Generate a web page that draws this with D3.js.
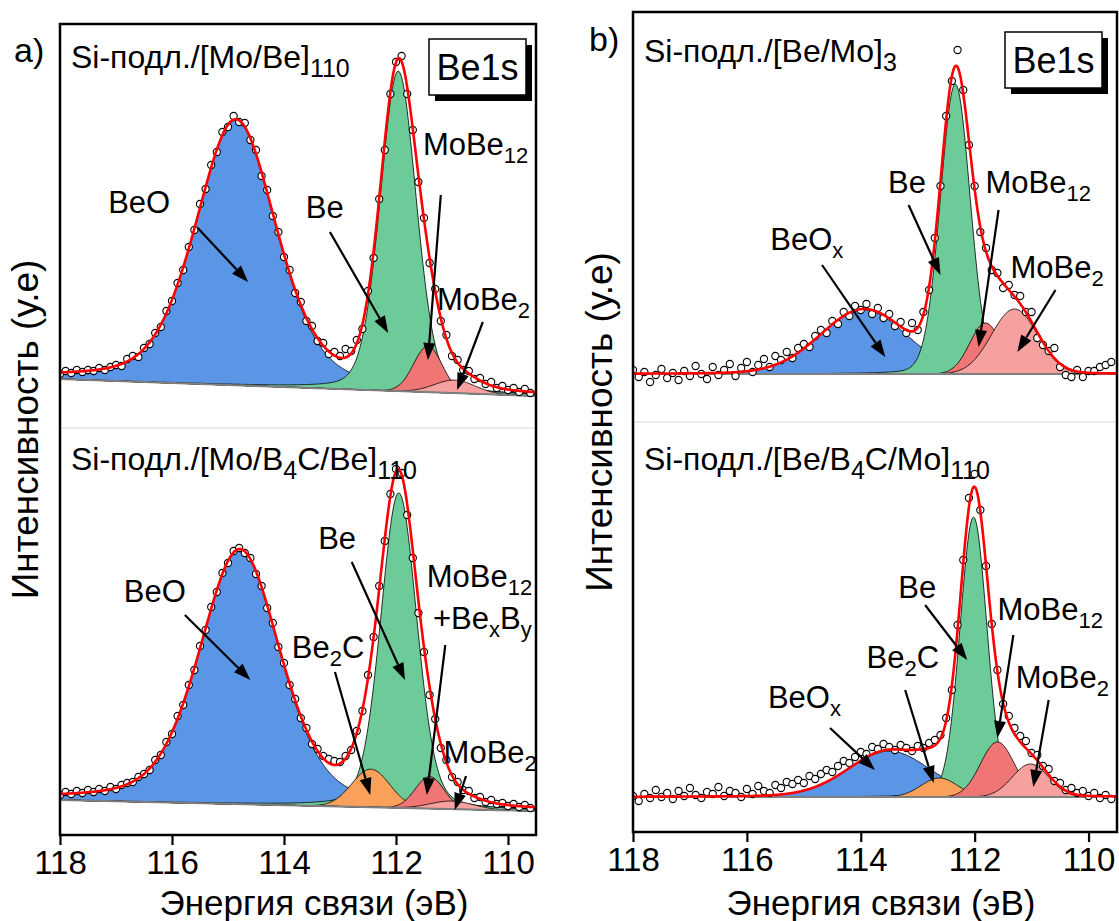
<!DOCTYPE html>
<html>
<head>
<meta charset="utf-8">
<script src="https://cdn.jsdelivr.net/npm/d3@7"></script>
<style>
  body { margin: 0; background: #fff; }
  svg { display: block; font-family: "Liberation Sans", Arial, sans-serif; }
</style>
</head>
<body>
<svg id="chart" width="1119" height="921"></svg>
<script>
// ---------------- data ----------------
const tickValues = [118, 116, 114, 112, 110];
const energyDomain = [118, 109.5];
const scanStart = 118.0, scanStep = 0.1;   // measured points: 118.0, 117.9, ... 109.6

// a) Si-подл./[Mo/Be]110
const aTopCounts = [54,57,55,58,56,58,57,60,58,61,63,62,69,72,71,80,84,95,101,117,
  127,145,158,181,198,224,239,263,276,296,301,312,306,305,288,278,252,238,212,196,
  171,158,135,126,107,102,87,85,74,76,72,79,77,88,99,137,170,229,278,334,
  366,372,334,298,246,210,165,139,107,93,72,68,58,57,49,50,44,46,40,42,
  38,40,36,39,35];
const aTopBackground = [49, 32];
const aTopPeaks = [
  { name: "BeO",    center: 114.86, height: 265, fwhm: 1.7,  eta: 0.35 },
  { name: "Be",     center: 111.96, height: 320, fwhm: 0.76, eta: 0.2 },
  { name: "MoBe12", center: 111.43, height: 46,  fwhm: 0.6,  eta: 0 },
  { name: "MoBe2",  center: 110.95, height: 13,  fwhm: 0.85, eta: 0 }
];

// a) Si-подл./[Mo/B4C/Be]110
const aBotCounts = [40,43,41,44,42,45,43,46,44,48,46,50,52,53,58,61,65,75,80,93,
  101,119,130,150,165,189,205,228,243,262,272,284,287,282,277,261,249,227,212,188,
  172,150,136,117,107,91,86,79,76,74,73,79,85,104,124,160,198,249,294,341,
  366,362,320,277,222,183,140,116,87,75,58,53,45,44,37,38,33,35,31,32,
  29,31,28,30,27];
const aBotBackground = [35, 24];
const aBotPeaks = [
  { name: "BeO",    center: 114.79, height: 254, fwhm: 1.7,  eta: 0.35 },
  { name: "Be",     center: 111.95, height: 315, fwhm: 0.76, eta: 0.2 },
  { name: "Be2C",   center: 112.45, height: 38,  fwhm: 0.8,  eta: 0 },
  { name: "MoBe12", center: 111.4,  height: 32,  fwhm: 0.6,  eta: 0 },
  { name: "MoBe2",  center: 111.0,  height: 8,   fwhm: 0.9,  eta: 0 }
];

// b) Si-подл./[Be/Mo]3
const bTopCounts = [52,45,50,40,47,53,44,49,42,51,46,56,48,43,55,47,52,58,46,54,
  60,50,57,63,55,66,62,70,64,74,78,75,86,92,89,101,98,110,106,116,
  112,118,108,114,104,108,96,100,89,99,92,110,132,184,236,306,341,372,332,277,
  236,190,174,152,149,134,137,127,126,110,110,84,77,71,74,55,47,45,52,45,
  51,51,55,57,60];
const bTopBackground = [48, 48];
const bTopPeaks = [
  { name: "BeOx",   center: 113.95, height: 64,  fwhm: 1.8,  eta: 0.1 },
  { name: "Be",     center: 112.34, height: 290, fwhm: 0.62, eta: 0.1 },
  { name: "MoBe12", center: 111.81, height: 51,  fwhm: 0.65, eta: 0 },
  { name: "MoBe2",  center: 111.3,  height: 65,  fwhm: 0.95, eta: 0 }
];

// b) Si-подл./[Be/B4C/Mo]110
const bBotCounts = [36,31,38,34,42,35,39,33,41,36,44,37,34,40,38,45,36,41,39,35,
  43,38,46,41,39,47,44,50,48,52,49,56,53,58,62,60,66,71,69,75,
  80,78,85,83,88,85,82,87,84,81,86,84,89,92,97,114,142,207,272,334,
  358,322,266,208,162,128,116,104,96,91,79,77,66,63,51,49,42,44,39,41,
  36,39,34,37,33];
const bBotBackground = [35, 35];
const bBotPeaks = [
  { name: "BeOx",   center: 113.5,  height: 46,  fwhm: 1.7,  eta: 0.15 },
  { name: "Be",     center: 112.02, height: 280, fwhm: 0.56, eta: 0.1 },
  { name: "Be2C",   center: 112.62, height: 19,  fwhm: 0.75, eta: 0 },
  { name: "MoBe12", center: 111.6,  height: 55,  fwhm: 0.7,  eta: 0 },
  { name: "MoBe2",  center: 111.02, height: 33,  fwhm: 0.75, eta: 0 }
];

// ---------------- styles / layout ----------------
const peakColor = {
  BeO: "#5b95e5", BeOx: "#5b95e5", Be: "#6ccb98",
  Be2C: "#f9a05a", MoBe12: "#f07575", MoBe2: "#f6a0a0"
};
const FONT = "'Liberation Sans', Arial, sans-serif";

const columns = {
  a: { x0: 60,  x1: 536,  y0: 24, y1: 835, split: 428, letter: "a)", lx: 14,  ly: 62,
       badgeRight: 10, badgeTop: 15, titleX: 314, yTitleX: 38 },
  b: { x0: 633, x1: 1117, y0: 12, y1: 832, split: 422, letter: "b)", lx: 589, ly: 51,
       badgeRight: 15, badgeTop: 20, titleX: 881, yTitleX: 612 }
};

const panels = [
  { col: "a", bottom: 428, counts: aTopCounts, bg: aTopBackground, peaks: aTopPeaks,
    title: "Si-подл./[Mo/Be]_{110}", titleY: 360,
    notes: [
      { text: "BeO", x: 117.14, y: 215, from: [115.54, 200], to: [114.64, 146] },
      { text: "Be", x: 113.61, y: 210, from: [113.18, 196], to: [112.14, 95] },
      { text: "MoBe_{12}", x: 111.52, y: 273, from: [111.2, 233], to: [111.43, 68] },
      { text: "MoBe_{2}", x: 111.27, y: 118, from: [110.45, 106], to: [110.91, 38] }
    ] },
  { col: "a", bottom: 835, counts: aBotCounts, bg: aBotBackground, peaks: aBotPeaks,
    title: "Si-подл./[Mo/B_{4}C/Be]_{110}", titleY: 365,
    notes: [
      { text: "BeO", x: 116.86, y: 233, from: [115.77, 220], to: [114.6, 155] },
      { text: "Be_{2}C", x: 113.86, y: 177, from: [113.09, 163], to: [112.46, 40] },
      { text: "Be", x: 113.39, y: 286, from: [112.79, 273], to: [111.84, 155] },
      { text: "MoBe_{12}", x: 111.45, y: 248 },
      { text: "+Be_{x}B_{y}", x: 111.34, y: 206, from: [111.12, 190], to: [111.45, 40] },
      { text: "MoBe_{2}", x: 111.15, y: 72, from: [110.75, 59], to: [110.95, 25] }
    ] },
  { col: "b", bottom: 422, counts: bTopCounts, bg: bTopBackground, peaks: bTopPeaks,
    title: "Si-подл./[Be/Mo]_{3}", titleY: 360,
    notes: [
      { text: "BeO_{x}", x: 115.59, y: 172, from: [114.68, 157], to: [113.57, 65] },
      { text: "Be", x: 113.52, y: 229, from: [113.16, 217], to: [112.6, 147] },
      { text: "MoBe_{12}", x: 111.81, y: 229, from: [111.58, 212], to: [111.93, 75] },
      { text: "MoBe_{2}", x: 111.37, y: 144, from: [110.58, 132], to: [111.25, 70] }
    ] },
  { col: "b", bottom: 832, counts: bBotCounts, bg: bBotBackground, peaks: bBotPeaks,
    title: "Si-подл./[Be/B_{4}C/Mo]_{110}", titleY: 362,
    notes: [
      { text: "Be", x: 113.34, y: 234, from: [112.87, 227], to: [112.13, 172] },
      { text: "Be_{2}C", x: 113.9, y: 164, from: [113.22, 142], to: [112.72, 49] },
      { text: "BeO_{x}", x: 115.63, y: 124, from: [114.54, 104], to: [113.75, 62] },
      { text: "MoBe_{12}", x: 111.6, y: 212, from: [111.32, 197], to: [111.6, 94] },
      { text: "MoBe_{2}", x: 111.28, y: 144, from: [110.7, 132], to: [110.97, 45] }
    ] }
];

// ---------------- helpers ----------------
function pseudoVoigt(e, p) {
  const d = e - p.center, w2 = p.fwhm * p.fwhm;
  const g = Math.exp(-4 * Math.LN2 * d * d / w2);
  const l = 1 / (1 + 4 * d * d / w2);
  return p.height * (p.eta * l + (1 - p.eta) * g);
}

// text with _{sub} parts
function richText(sel, str, size, subScale, drop) {
  const parts = str.split(/_\{([^}]*)\}/);
  let shifted = false;
  parts.forEach((s, i) => {
    if (!s) return;
    const sub = i % 2 === 1;
    const t = sel.append("tspan").text(s);
    if (sub) {
      t.attr("font-size", Math.round(size * subScale)).attr("dy", shifted ? 0 : drop);
      shifted = true;
    } else {
      t.attr("font-size", size).attr("dy", shifted ? -drop : 0);
      shifted = false;
    }
  });
}

function arrow(g, x1, y1, x2, y2) {
  const ang = Math.atan2(y2 - y1, x2 - x1);
  const len = 17, half = 6;
  const bx = x2 - len * Math.cos(ang), by = y2 - len * Math.sin(ang);
  g.append("line")
    .attr("x1", x1).attr("y1", y1).attr("x2", bx).attr("y2", by)
    .attr("stroke", "#000").attr("stroke-width", 2.2);
  const px = -Math.sin(ang) * half, py = Math.cos(ang) * half;
  g.append("path")
    .attr("d", `M${x2},${y2}L${bx + px},${by + py}L${bx - px},${by - py}Z`)
    .attr("fill", "#000");
}

// ---------------- drawing ----------------
const svg = d3.select("#chart");
const defs = svg.append("defs");
const xScales = {};

Object.entries(columns).forEach(([key, c]) => {
  xScales[key] = d3.scaleLinear().domain(energyDomain).range([c.x0, c.x1]);
  defs.append("clipPath").attr("id", "clip-" + key)
    .append("rect")
    .attr("x", c.x0).attr("y", c.y0).attr("width", c.x1 - c.x0).attr("height", c.y1 - c.y0);
});

const fine = d3.range(energyDomain[0], energyDomain[1] - 0.001, -0.02);

panels.forEach(p => {
  const c = columns[p.col];
  const x = xScales[p.col];
  const y = d3.scaleLinear().domain([0, 400]).range([p.bottom, p.bottom - 400]);
  const bgAt = e => p.bg[0] + (p.bg[1] - p.bg[0]) * (energyDomain[0] - e) / (energyDomain[0] - energyDomain[1]);

  const g = svg.append("g").attr("clip-path", `url(#clip-${p.col})`);

  // components
  p.peaks.forEach(pk => {
    const area = d3.area()
      .x(e => x(e))
      .y0(e => y(bgAt(e)))
      .y1(e => y(bgAt(e) + pseudoVoigt(e, pk)));
    g.append("path").datum(fine)
      .attr("d", area)
      .attr("fill", peakColor[pk.name])
      .attr("stroke", "#000").attr("stroke-width", 0.8);
  });

  // background
  g.append("line")
    .attr("x1", x(energyDomain[0])).attr("y1", y(p.bg[0]))
    .attr("x2", x(energyDomain[1])).attr("y2", y(p.bg[1]))
    .attr("stroke", "#808080").attr("stroke-width", 2);

  // measured points
  g.selectAll("circle.pt").data(p.counts).enter().append("circle")
    .attr("class", "pt")
    .attr("cx", (v, i) => x(scanStart - i * scanStep))
    .attr("cy", v => y(v))
    .attr("r", 3.6)
    .attr("fill", "#fff").attr("stroke", "#000").attr("stroke-width", 1.1);

  // envelope
  const env = d3.line()
    .x(e => x(e))
    .y(e => y(bgAt(e) + d3.sum(p.peaks, pk => pseudoVoigt(e, pk))))
    .curve(d3.curveBasis);
  g.append("path").datum(fine)
    .attr("d", env)
    .attr("fill", "none").attr("stroke", "#ff0000").attr("stroke-width", 2.6);

  // annotations
  p.notes.forEach(n => {
    const t = svg.append("text")
      .attr("x", x(n.x)).attr("y", y(n.y))
      .attr("font-family", FONT).attr("fill", "#000");
    richText(t, n.text, 31, 0.7, 8);
    if (n.from) arrow(svg, x(n.from[0]), y(n.from[1]), x(n.to[0]), y(n.to[1]));
  });

  // panel title
  const tt = svg.append("text")
    .attr("x", c.x0 + 11).attr("y", y(p.titleY))
    .attr("font-family", FONT).attr("fill", "#000");
  richText(tt, p.title, 32, 0.78, 9);
});

// frames, dividers, badges, axes
Object.entries(columns).forEach(([key, c]) => {
  const x = xScales[key];

  svg.append("line")
    .attr("x1", c.x0).attr("x2", c.x1).attr("y1", c.split).attr("y2", c.split)
    .attr("stroke", "#d8d8d8").attr("stroke-width", 1);

  svg.append("rect")
    .attr("x", c.x0).attr("y", c.y0).attr("width", c.x1 - c.x0).attr("height", c.y1 - c.y0)
    .attr("fill", "none").attr("stroke", "#000").attr("stroke-width", 2.5);

  // Be1s badge with shadow
  const bw = 97, bh = 56;
  const bx = c.x1 - c.badgeRight - bw, by = c.y0 + c.badgeTop;
  svg.append("rect").attr("x", bx + 6).attr("y", by + 6).attr("width", bw).attr("height", bh).attr("fill", "#000");
  svg.append("rect").attr("x", bx).attr("y", by).attr("width", bw).attr("height", bh)
    .attr("fill", "#fff").attr("stroke", "#000").attr("stroke-width", 1.5);
  svg.append("text").attr("x", bx + bw / 2).attr("y", by + bh / 2 + 13)
    .attr("text-anchor", "middle").attr("font-family", FONT).attr("font-size", 36)
    .text("Be1s");

  // column letter
  svg.append("text").attr("x", c.lx).attr("y", c.ly)
    .attr("font-family", FONT).attr("font-size", 34).text(c.letter);

  // x axis
  const ax = svg.append("g")
    .attr("transform", `translate(0,${c.y1})`)
    .call(d3.axisBottom(x).tickValues(tickValues).tickSize(10).tickSizeOuter(0).tickPadding(6));
  ax.select(".domain").remove();
  ax.selectAll(".tick line").attr("stroke-width", 2.2);
  ax.selectAll(".tick text").attr("font-family", FONT).attr("font-size", 33).attr("fill", "#000");

  svg.append("text")
    .attr("x", c.titleX).attr("y", 915)
    .attr("text-anchor", "middle").attr("font-family", FONT).attr("font-size", 35)
    .text("Энергия связи (эВ)");

  svg.append("text")
    .attr("transform", `translate(${c.yTitleX},${(c.y0 + c.y1) / 2}) rotate(-90)`)
    .attr("text-anchor", "middle").attr("font-family", FONT).attr("font-size", 37)
    .text("Интенсивность (у.е)");
});
</script>
</body>
</html>
